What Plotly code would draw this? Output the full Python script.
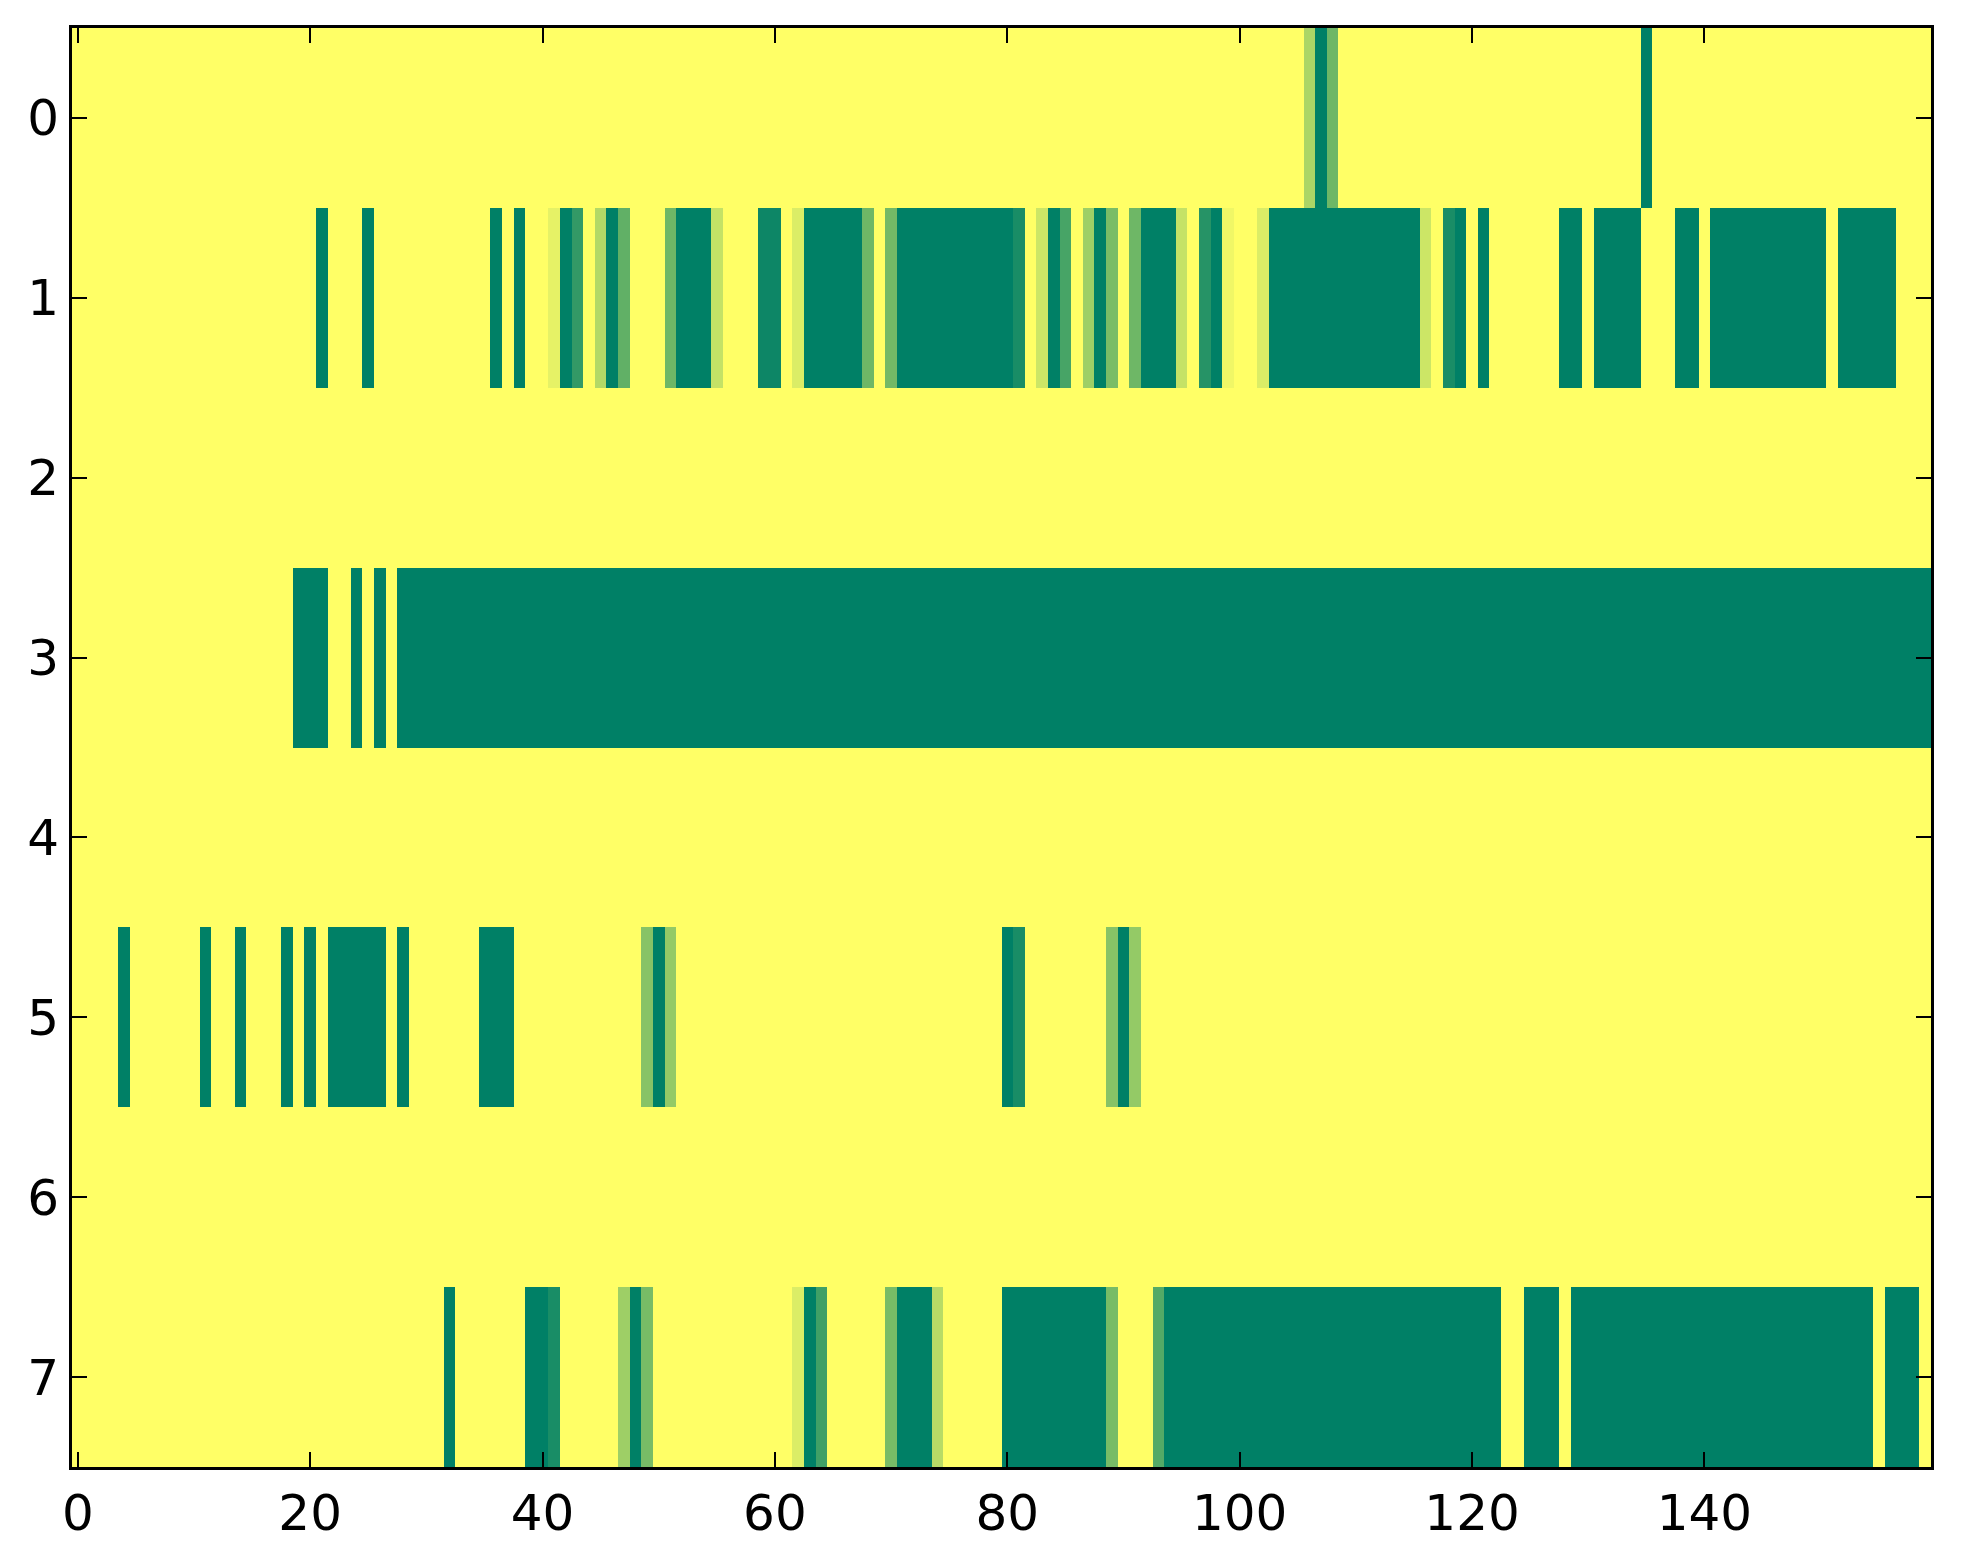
import numpy as np
import plotly.graph_objects as go

n_cols = 160
row_labels = [0, 1, 2, 3, 4, 5, 6, 7]
x_ticks = [0, 20, 40, 60, 80, 100, 120, 140]

# each row: runs of (first col, last col, value); cells not listed are 0
row0 = [(106, 106, 0.33), (107, 107, 1.0), (108, 108, 0.57), (135, 135, 1.0)]
row1 = [(21, 21, 1.0), (25, 25, 1.0), (36, 36, 1.0), (38, 38, 1.0),
        (41, 41, 0.1), (42, 42, 1.0), (43, 43, 0.8), (45, 45, 0.3),
        (46, 46, 1.0), (47, 47, 0.62), (51, 51, 0.57), (52, 54, 1.0),
        (55, 55, 0.23), (59, 60, 0.95), (62, 62, 0.14), (63, 67, 1.0),
        (68, 68, 0.57), (70, 70, 0.55), (71, 80, 1.0), (81, 81, 0.9),
        (83, 83, 0.2), (84, 84, 1.0), (85, 85, 0.72), (87, 87, 0.38),
        (88, 88, 1.0), (89, 89, 0.52), (91, 91, 0.57), (92, 94, 1.0),
        (95, 95, 0.23), (97, 97, 0.85), (98, 98, 1.0), (99, 99, 0.06),
        (102, 102, 0.14), (103, 115, 1.0), (116, 116, 0.2), (118, 118, 0.9),
        (119, 119, 1.0), (121, 121, 1.0), (128, 129, 1.0), (131, 134, 1.0),
        (138, 139, 1.0), (141, 150, 1.0), (152, 156, 1.0)]
row2 = []
row3 = [(19, 21, 1.0), (24, 24, 1.0), (26, 26, 1.0), (28, 159, 1.0)]
row4 = []
row5 = [(4, 4, 1.0), (11, 11, 1.0), (14, 14, 1.0), (18, 18, 1.0),
        (20, 20, 1.0), (22, 26, 1.0), (28, 28, 1.0), (35, 37, 1.0),
        (49, 49, 0.47), (50, 50, 1.0), (51, 51, 0.42), (80, 80, 1.0),
        (81, 81, 0.9), (89, 89, 0.47), (90, 90, 1.0), (91, 91, 0.42)]
row6 = []
row7 = [(32, 32, 1.0), (39, 40, 1.0), (41, 41, 0.9), (47, 47, 0.38),
        (48, 48, 1.0), (49, 49, 0.53), (62, 62, 0.14), (63, 63, 1.0),
        (64, 64, 0.75), (70, 70, 0.53), (71, 73, 1.0), (74, 74, 0.28),
        (80, 88, 1.0), (89, 89, 0.53), (93, 93, 0.67), (94, 122, 1.0),
        (125, 127, 1.0), (129, 154, 1.0), (156, 158, 1.0)]

rows = [row0, row1, row2, row3, row4, row5, row6, row7]

z = np.zeros((len(rows), n_cols))
for r, runs in enumerate(rows):
    for a, b, v in runs:
        z[r, a:b + 1] = v

# summer_r: 0 -> yellow, 1 -> green
summer_r = [[0.0, 'rgb(255,255,102)'], [1.0, 'rgb(0,128,102)']]

fig = go.Figure()
fig.add_trace(go.Heatmap(z=z, x=list(range(n_cols)), y=row_labels,
                         colorscale=summer_r, zmin=0, zmax=1,
                         showscale=False))

axis_style = dict(showline=True, linewidth=3, linecolor='black', mirror='ticks',
                  ticks='inside', ticklen=15, tickwidth=2, tickcolor='black',
                  showgrid=False, zeroline=False,
                  tickfont=dict(family='DejaVu Sans', size=50, color='black'))

fig.update_xaxes(range=[-0.5, n_cols - 0.5], tickvals=x_ticks, **axis_style)
fig.update_yaxes(range=[7.5, -0.5], tickvals=row_labels, **axis_style)

# page body adds an 8px margin, so the figure is 8px smaller
fig.update_layout(width=1955, height=1556,
                  margin=dict(l=64, r=32, t=20, b=97),
                  paper_bgcolor='white', plot_bgcolor='white')

fig.write_html("out.html")
